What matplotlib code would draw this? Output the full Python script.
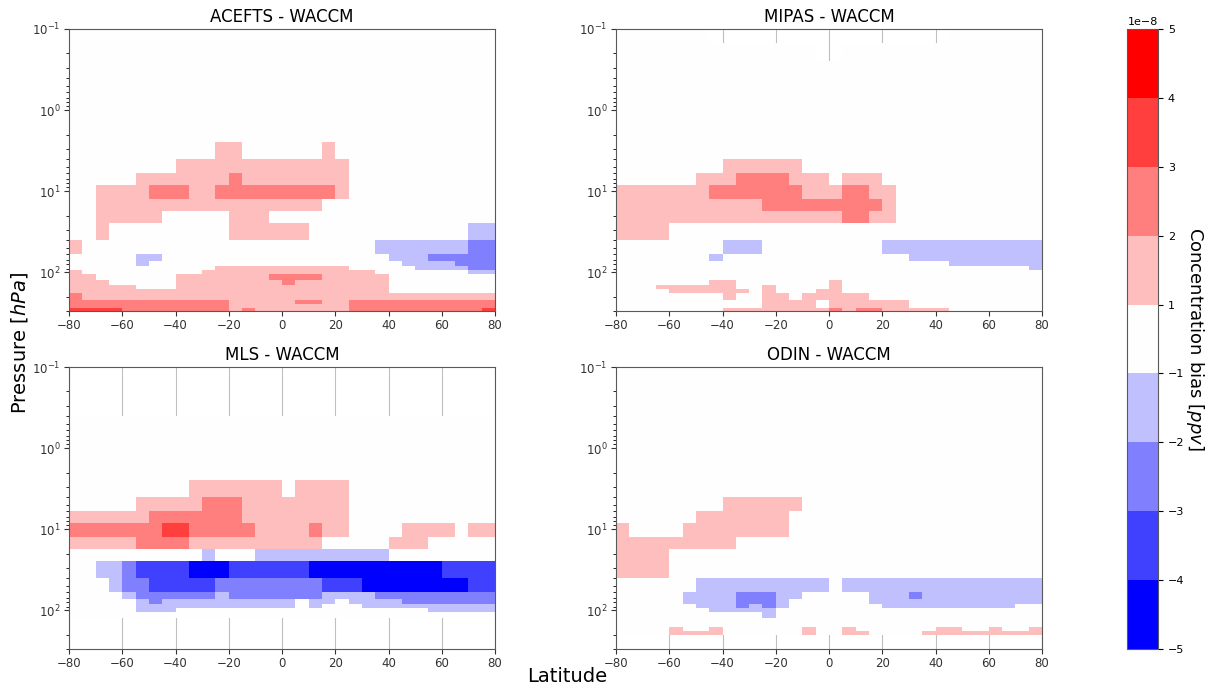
# zonal mean concentration bias of four satellite instruments against WACCM

import numpy as np
import matplotlib.pyplot as plt
from matplotlib.colors import ListedColormap, BoundaryNorm

# 5 degree latitude bins
lat_edges = np.arange(-80, 85, 5)
# pressure cell boundaries (hPa), top to bottom
p_edges = np.array([0.1, 0.15, 0.25, 0.4, 0.6, 0.85, 1.5, 2.5, 4, 6, 8.5, 12.5,
                    17.5, 25, 40, 60, 72, 84, 93, 106, 123, 142, 160, 180, 200,
                    221, 245, 274, 320])

# bias class of each cell, value in units of 1e-8 ppv
# '.' |bias| < 1, a/b/c positive bins, A/B/C/D negative bins, ' ' no data
class_value = {'.': 0.0, 'a': 1.5, 'b': 2.5, 'c': 3.5, 'd': 4.5,
               'A': -1.5, 'B': -2.5, 'C': -3.5, 'D': -4.5, ' ': np.nan}

acefts = [
    "................................",
    "................................",
    "................................",
    "................................",
    "................................",
    "................................",
    "................................",
    "...........aa......a............",
    "........aaaaaaaaaaaaa...........",
    ".....aaaaaaabaaaaaaaa...........",
    "..aaaabbbaabbbbbbbbba...........",
    "..aaaaaaaaaaaaaaaaa.............",
    "..aaaaa.....aaa.................",
    "..a.........aaaaaa............AA",
    "a......................AAAAAAABB",
    ".....AA.................AAABBBBB",
    ".....A...................AAAABBB",
    "...........aaaaaaaaaa.....AAAABB",
    "a.........aaaaaaaaaaaaa.......AA",
    "aa......aaaaaaabbbbaaaaa........",
    "aaa.....aaaaaaaabaaaaaaa........",
    "aaaaa...aaaaaaaaaaaaaaaa........",
    "aaaaaaaaaaaaaaaaaaaaaaaa........",
    "baaaaaaaaaaaaaaaaaaaaaaaaaaaaaaa",
    "baaaaaaaaaaaaaaaaaaaaaaaaaaaaaaa",
    "bbbbbbbbbbbbaaaaabbaabbbbbbbbbbb",
    "bbbbbbbbbbbbaaaaaaaaabbbbbbbbbbb",
    "ccccbbbbbbbbabaaaaaaabbbbbbbbbbc",
]

mipas = [
    ".......                  .......",
    "...............  ...............",
    "................................",
    "................................",
    "................................",
    "................................",
    "................................",
    "................................",
    "........aaaaaa..................",
    "......aaabbbbaaa.aaa............",
    "aaaaaaabbbbbbbaaabbaa...........",
    "aaaaaaaaaaabbbbbbbbba...........",
    "aaaaaaaaaaaaaaaaabbaa...........",
    "aaaa............................",
    "........AAA.........AAAAAAAAAAAA",
    ".......A..............AAAAAAAAAA",
    ".........................AAAAAAA",
    "...............................A",
    "................................",
    "................................",
    ".......aa.......a...............",
    "...aaaaaa..a....a...............",
    "....aaaaaa.a...aa...............",
    "........a..aa.aaaaa.............",
    "........a..aa.aaaaa.............",
    "...........aaaa.aaaaaa..........",
    "...........aaaa.aaaaaa..........",
    "........aaaaaaaababbaaaaa.......",
]

mls = [
    "                                ",
    "                                ",
    "                                ",
    "................................",
    "................................",
    "................................",
    "................................",
    ".........aaaaaaa.aaaa...........",
    ".....aaaaabbbaaaaaaaa...........",
    "aaaaaabbbbbbbaaaaaaaa...........",
    "bbbbbbbccbbbbbaaaabaa....aaaa.aa",
    "aaaaabbbbaaaaaaaaaa.....aaa.....",
    "..........A...AAAAAAAAAA........",
    "..AABCCCCDDDCCCCCCDDDDDDDDDDCCCC",
    "...ABBCCCCCBBBBBBBBCCCDDDDDDDDCC",
    "....ABBBBBBABBBBBBBAAAABBBBBBBBB",
    ".....ABAAAAAAAAAA.AA.AAAABBBBBBB",
    ".....AAAAAAAAAAAA.A...AAAAAAAAAA",
    ".....AAA...................AAAAA",
    "................................",
    "                                ",
    "                                ",
    "                                ",
    "                                ",
    "                                ",
    "                                ",
    "                                ",
    "                                ",
]

odin = [
    "................................",
    "................................",
    "................................",
    "................................",
    "................................",
    "................................",
    "................................",
    "................................",
    "........aaaaaa..................",
    "......aaaaaaa...................",
    "a....aaaaaaaa...................",
    "aaaaaaaaa.......................",
    "aaaa............................",
    "aaaa............................",
    "......AAAAAAAAAA.AAAAAAAAAAAAAAA",
    ".....AAAABBBAA.....AAABAAAAAAAAA",
    ".....AAAABBBA......AAAAAAAAAAAAA",
    "......AAABABA.......AAAAAAAAAA..",
    ".......AAAAA....................",
    "...........A....................",
    "................................",
    "................................",
    "....a..a......a..a......aa..a..a",
    "....aaaa......a..aa....aaaaaaaaa",
    "                                ",
    "                                ",
    "                                ",
    "                                ",
]

titles = ["ACEFTS - WACCM", "MIPAS - WACCM", "MLS - WACCM", "ODIN - WACCM"]
panels = [acefts, mipas, mls, odin]

levels = np.array([-5, -4, -3, -2, -1, 1, 2, 3, 4, 5]) * 1e-8
cmap = ListedColormap(plt.cm.bwr(np.linspace(0, 1, len(levels) - 1)))
norm = BoundaryNorm(levels, cmap.N)

fig = plt.figure(figsize=(12.06, 6.85), dpi=100)
W, H = 1206, 685
boxes = [(69, 29), (616, 29), (69, 367), (616, 367)]  # left, top in pixels
aw, ah = 426, 282

for (x0, y0), rows, title in zip(boxes, panels, titles):
    ax = fig.add_axes([x0 / W, 1 - (y0 + ah) / H, aw / W, ah / H])
    z = np.array([[class_value[c] for c in r] for r in rows]) * 1e-8
    mesh = ax.pcolormesh(lat_edges, p_edges, np.ma.masked_invalid(z),
                         cmap=cmap, norm=norm)
    ax.set_yscale('log')
    ax.set_ylim(300, 0.1)
    ax.set_xlim(-80, 80)
    ax.set_xticks(np.arange(-80, 81, 20))
    ax.set_axisbelow(True)
    ax.grid(axis='x', color='0.75', linewidth=0.8)
    ax.set_title(title, fontsize=12, pad=5)
    ax.tick_params(labelsize=8.5, colors='0.2', pad=2.5)
    for s in ax.spines.values():
        s.set_color('0.35')

fig.text(0.47, 0.004, 'Latitude', ha='center', va='baseline', fontsize=14)
fig.text(0.016, 0.5, 'Pressure [$hPa$]', ha='center', va='center',
         rotation=90, fontsize=14)

cax = fig.add_axes([1127 / W, 1 - 649 / H, 31 / W, 620 / H])
cb = fig.colorbar(mesh, cax=cax, ticks=levels)
cb.set_label('Concentration bias [$ppv$]', rotation=270, labelpad=16,
             fontsize=13)
cb.ax.tick_params(labelsize=8)
cb.ax.yaxis.get_offset_text().set_fontsize(8)
cb.outline.set_edgecolor('0.35')

fig.savefig('out.png', dpi=100)
